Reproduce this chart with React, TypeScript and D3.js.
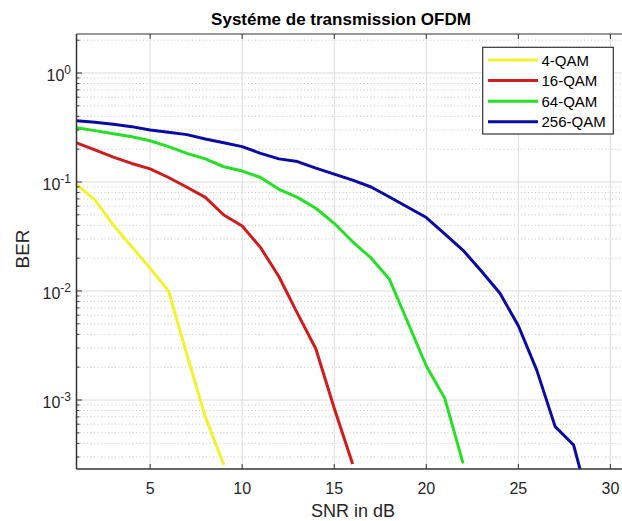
import React from "react";
import * as d3 from "d3";

const SNR_DB = [1, 2, 3, 4, 5, 6, 7, 8, 9, 10, 11, 12, 13, 14, 15, 16, 17, 18, 19, 20, 21, 22, 23, 24, 25, 26, 27, 28, 29];

const BER_4QAM = [0.0953, 0.0684, 0.0403, 0.0255, 0.0162, 0.0100, 0.0026, 0.0007, 0.000255];
const BER_16QAM = [0.229, 0.197, 0.169, 0.148, 0.132, 0.110, 0.0894, 0.0723, 0.0498, 0.0395, 0.0250, 0.0135, 0.00624, 0.00295, 0.00084, 0.000259];
const BER_64QAM = [0.315, 0.296, 0.277, 0.260, 0.239, 0.211, 0.183, 0.163, 0.138, 0.126, 0.110, 0.0857, 0.0723, 0.0574, 0.0418, 0.0283, 0.0201, 0.0128, 0.00514, 0.00205, 0.00104, 0.000262];
const BER_256QAM = [0.365, 0.353, 0.338, 0.322, 0.300, 0.286, 0.272, 0.248, 0.229, 0.211, 0.183, 0.163, 0.154, 0.134, 0.118, 0.104, 0.090, 0.0728, 0.0586, 0.0472, 0.0335, 0.0236, 0.0152, 0.00953, 0.0048, 0.00188, 0.00057, 0.000387, 0.00009];

const SERIES_NAMES = ["4-QAM", "16-QAM", "64-QAM", "256-QAM"];
const SERIES_VALUES = [BER_4QAM, BER_16QAM, BER_64QAM, BER_256QAM];
const SERIES_COLORS = ["#f2f22e", "#d01c1c", "#26e026", "#0a0aa8"];

const X_TICKS = [5, 10, 15, 20, 25, 30];
const Y_MAJOR_EXPONENTS = [-3, -2, -1, 0];
const Y_MINOR_MULTIPLIERS = [2, 3, 4, 5, 6, 7, 8, 9];

const TITLE = "Systéme de transmission OFDM";
const X_LABEL = "SNR in dB";
const Y_LABEL = "BER";

const W = 622;
const H = 521;
const LEFT = 76.5;
const TOP = 34;
const BOTTOM = 469;
const RIGHT = 628.8;
const FONT = "'Liberation Sans', Arial, Helvetica, sans-serif";
const AXIS_COLOR = "#333333";

export default function App() {
  const x = d3.scaleLinear().domain([1, 31]).range([LEFT, RIGHT]);
  const y = d3.scaleLog().domain([2.328e-4, 2.279]).range([BOTTOM, TOP]);

  const line = d3
    .line<[number, number]>()
    .x((d) => x(d[0]))
    .y((d) => y(d[1]));

  const minorVals: number[] = [];
  [-4, -3, -2, -1, 0].forEach((e) => {
    Y_MINOR_MULTIPLIERS.forEach((m) => {
      const v = m * Math.pow(10, e);
      if (v >= 2.328e-4 && v <= 2.279) minorVals.push(v);
    });
  });

  return (
    <div style={{ position: "absolute", left: 0, top: 0 }}>
      <svg width={W} height={H} style={{ display: "block", background: "#fff" }} fontFamily={FONT}>
        <defs>
          <clipPath id="plotClip">
            <rect x={LEFT} y={TOP} width={RIGHT - LEFT} height={BOTTOM - TOP} />
          </clipPath>
        </defs>
        <rect x={0} y={0} width={W} height={H} fill="#ffffff" />
        {/* minor grid */}
        {minorVals.map((v, i) => (
          <line key={"mg" + i} x1={LEFT} x2={RIGHT} y1={y(v)} y2={y(v)} stroke="#c4c4c4" strokeWidth={1} strokeDasharray="1,2.5" />
        ))}
        {/* major grid */}
        {Y_MAJOR_EXPONENTS.map((e) => (
          <line key={"yg" + e} x1={LEFT} x2={RIGHT} y1={y(Math.pow(10, e))} y2={y(Math.pow(10, e))} stroke="#dcdcdc" strokeWidth={1} />
        ))}
        {X_TICKS.map((t) => (
          <line key={"xg" + t} x1={x(t)} x2={x(t)} y1={TOP} y2={BOTTOM} stroke="#dcdcdc" strokeWidth={1} />
        ))}
        {/* series */}
        <g clipPath="url(#plotClip)">
          {SERIES_VALUES.map((vals, si) => (
            <path
              key={"s" + si}
              d={line(vals.map((v, i) => [SNR_DB[i], v] as [number, number])) || ""}
              fill="none"
              stroke={SERIES_COLORS[si]}
              strokeWidth={3}
              strokeLinejoin="round"
            />
          ))}
        </g>
        {/* axes box */}
        <line x1={LEFT} x2={RIGHT} y1={BOTTOM} y2={BOTTOM} stroke={AXIS_COLOR} strokeWidth={1.5} />
        <line x1={LEFT} x2={RIGHT} y1={TOP} y2={TOP} stroke={AXIS_COLOR} strokeWidth={1.2} />
        <line x1={LEFT} x2={LEFT} y1={TOP} y2={BOTTOM} stroke={AXIS_COLOR} strokeWidth={1.5} />
        <line x1={RIGHT} x2={RIGHT} y1={TOP} y2={BOTTOM} stroke={AXIS_COLOR} strokeWidth={1.2} />
        {/* x ticks */}
        {X_TICKS.map((t) => (
          <g key={"xt" + t}>
            <line x1={x(t)} x2={x(t)} y1={BOTTOM} y2={BOTTOM - 5} stroke={AXIS_COLOR} strokeWidth={1} />
            <line x1={x(t)} x2={x(t)} y1={TOP} y2={TOP + 5} stroke={AXIS_COLOR} strokeWidth={1} />
            <text x={x(t)} y={494} textAnchor="middle" fontSize={16} fill="#262626">
              {t}
            </text>
          </g>
        ))}
        {/* y ticks */}
        {minorVals.map((v, i) => (
          <line key={"ymt" + i} x1={LEFT} x2={LEFT + 3} y1={y(v)} y2={y(v)} stroke={AXIS_COLOR} strokeWidth={1} />
        ))}
        {Y_MAJOR_EXPONENTS.map((e) => {
          const yy = y(Math.pow(10, e));
          return (
            <g key={"yt" + e}>
              <line x1={LEFT} x2={LEFT + 5.5} y1={yy} y2={yy} stroke={AXIS_COLOR} strokeWidth={1} />
              <text x={71} y={yy + 8} textAnchor="end" fontSize={16} fill="#262626">
                <tspan>10</tspan>
                <tspan dy={-7} fontSize={12}>
                  {e < 0 ? "-" + Math.abs(e) : String(e)}
                </tspan>
              </text>
            </g>
          );
        })}
        {/* labels */}
        <text x={341} y={25} textAnchor="middle" fontSize={17} fontWeight="bold" fill="#000">
          {TITLE}
        </text>
        <text x={353} y={517} textAnchor="middle" fontSize={18} fill="#262626">
          {X_LABEL}
        </text>
        <text transform={`translate(28.5, ${249}) rotate(-90)`} textAnchor="middle" fontSize={19} fill="#262626">
          {Y_LABEL}
        </text>
        {/* legend */}
        <rect x={482.7} y={47.3} width={130.6} height={86.7} fill="#ffffff" stroke={AXIS_COLOR} strokeWidth={1.2} />
        {SERIES_NAMES.map((name, i) => {
          const ly = 60 + i * 20.6;
          return (
            <g key={"lg" + i}>
              <line x1={488} x2={538} y1={ly} y2={ly} stroke={SERIES_COLORS[i]} strokeWidth={3} />
              <text x={541.5} y={ly + 5.5} fontSize={15} fill="#000">
                {name}
              </text>
            </g>
          );
        })}
      </svg>
    </div>
  );
}
